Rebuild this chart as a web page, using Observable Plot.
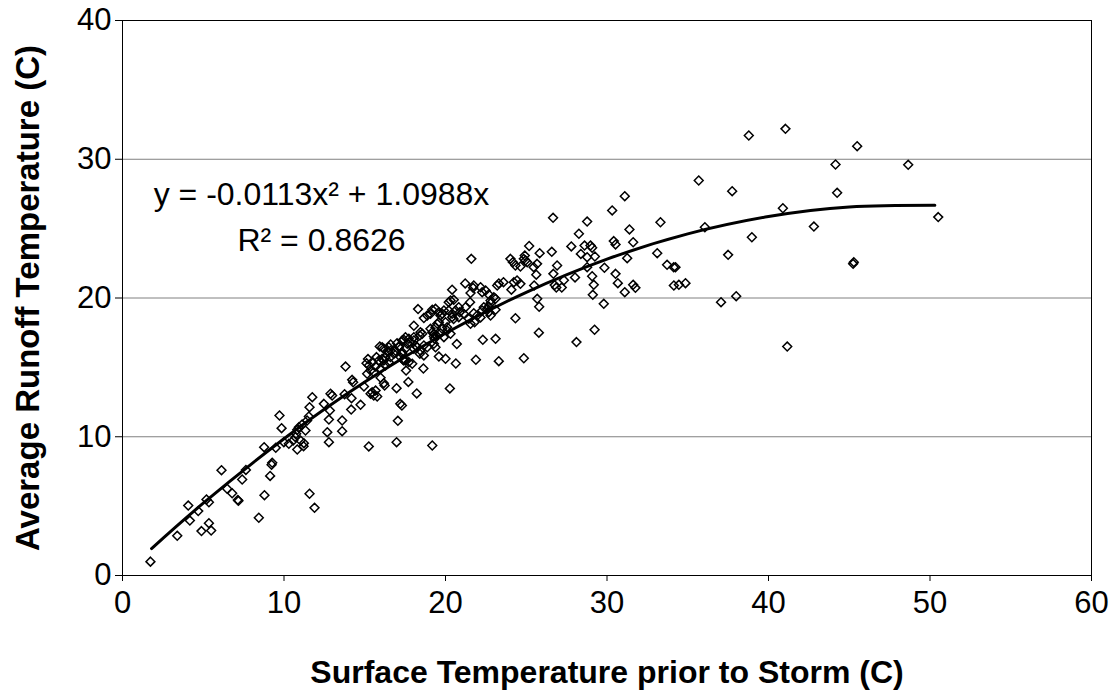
<!DOCTYPE html>
<html><head><meta charset="utf-8">
<script src="https://cdn.jsdelivr.net/npm/d3@7"></script>
<script src="https://cdn.jsdelivr.net/npm/@observablehq/plot@0.6"></script>
<style>body{margin:0;background:#fff;}</style>
</head><body><div id="chart"></div>
<script>
const surfaceTemp = [
 1.73, 3.39, 4.07, 4.17, 4.69, 4.89, 5.35, 5.49, 5.2, 5.35,
 6.13, 6.48, 6.79, 7.14, 7.18, 7.41, 7.64, 8.44, 8.79, 9.14,
 9.27, 9.23, 8.77, 9.49, 9.72, 9.85, 9.99, 10.3, 10.57, 10.71,
 10.82, 10.82, 10.92, 11.02, 11.12, 11.21, 11.23, 10.75, 11.33, 11.43,
 11.54, 11.58, 11.75, 11.58, 11.89, 12.47, 12.84, 12.78, 12.68, 12.78,
 12.88, 12.98, 13.6, 13.6, 13.81, 13.75, 14.18, 14.16, 14.22, 14.28,
 14.74, 14.95, 15.25, 15.11, 15.26, 15.46, 15.15, 15.36, 15.56, 15.36,
 15.46, 15.56, 15.2, 15.73, 15.87, 16.08, 15.93, 16.18, 16.49, 15.98,
 16.18, 15.67, 15.98, 16.28, 16.49, 16.59, 16.9, 17.11, 17.32, 17.52,
 16.97, 17.2, 17.3, 17.05, 16.97, 17.56, 17.7, 17.52, 15.67, 15.77,
 16.23, 17.73, 17.94, 17.37, 18.04, 18.14, 18.22, 18.3, 18.04, 18.63,
 19.18, 20.27, 16.6, 16.43, 16.08, 16.6, 16.28, 16.18, 17.21, 17.32,
 17.42, 17.0, 17.11, 17.52, 17.42, 17.63, 17.79, 18.04, 18.04, 18.25,
 18.45, 18.66, 18.87, 18.41, 18.66, 18.45, 18.56, 18.41, 17.73, 17.32,
 16.8, 19.28, 19.44, 19.28, 19.38, 19.59, 20.0, 20.64, 20.7, 21.88,
 22.31, 23.1, 23.3, 24.85, 24.33, 25.78, 25.8, 25.68, 28.11, 19.18,
 19.38, 19.07, 18.87, 18.66, 19.9, 19.8, 19.69, 19.59, 19.59, 20.1,
 19.49, 19.38, 19.07, 19.18, 19.28, 19.32, 19.69, 19.8, 20.1, 20.31,
 19.9, 20.2, 20.31, 20.51, 20.41, 20.5, 20.2, 20.41, 20.62, 20.0,
 20.82, 20.41, 20.88, 20.82, 21.55, 21.71, 21.22, 21.6, 21.52, 21.24,
 21.13, 21.44, 21.75, 21.8, 21.55, 21.96, 22.27, 22.58, 22.68, 22.79,
 22.17, 22.37, 22.68, 22.79, 22.99, 23.1, 23.1, 22.79, 22.17, 22.48,
 22.68, 22.27, 21.75, 23.2, 23.3, 23.59, 24.64, 24.43, 24.23, 24.08,
 25.06, 24.95, 24.85, 25.18, 24.91, 24.64, 24.02, 24.17, 25.46, 24.33,
 25.83, 26.58, 25.67, 26.91, 25.62, 26.68, 26.76, 26.86, 25.49, 27.2,
 27.33, 28.02, 27.79, 28.26, 26.66, 28.38, 28.61, 28.98, 29.08, 28.77,
 29.25, 31.25, 33.11, 37.5, 30.42, 30.53, 31.62, 35.68, 37.75, 31.1,
 30.32, 28.77, 33.31, 31.39, 36.06, 38.97, 33.72, 34.13, 34.24, 29.84,
 28.77, 29.08, 30.53, 29.18, 29.12, 29.8, 30.67, 31.1, 31.62, 31.76,
 34.14, 34.45, 34.86, 37.06, 38.0, 29.23, 38.78, 41.05, 45.49, 44.15,
 48.65, 44.25, 40.89, 50.51, 42.81, 45.28, 45.24, 41.16
];
const runoffTemp = [
 1.0, 2.86, 5.04, 3.96, 4.64, 3.2, 3.77, 3.24, 5.48, 5.28,
 7.59, 6.25, 5.93, 5.45, 5.38, 6.92, 7.61, 4.16, 5.79, 7.18,
 8.12, 7.98, 9.25, 9.2, 11.53, 10.62, 9.61, 9.49, 9.73, 9.97,
 9.08, 10.5, 10.69, 9.73, 10.88, 9.32, 9.54, 10.21, 10.45, 11.17,
 11.46, 12.13, 12.85, 5.89, 4.88, 12.37, 11.89, 11.24, 10.33, 9.61,
 13.1, 12.97, 11.17, 10.4, 15.06, 13.07, 12.78, 11.96, 14.1, 13.93,
 12.3, 13.62, 9.3, 15.3, 15.14, 15.37, 14.54, 14.77, 14.65, 13.1,
 13.21, 12.97, 15.6, 15.74, 15.5, 15.62, 16.5, 16.34, 16.45, 14.25,
 13.86, 15.06, 14.9, 15.14, 15.37, 15.74, 16.2, 16.45, 16.1, 16.34,
 13.5, 12.37, 12.25, 11.15, 9.61, 14.77, 13.95, 15.5, 13.33, 12.9,
 13.69, 15.38, 15.26, 15.55, 16.94, 16.58, 13.12, 19.2, 18.0, 14.92,
 9.37, 13.48, 16.65, 16.1, 16.45, 16.2, 15.74, 15.5, 15.74, 15.98,
 15.5, 16.74, 16.5, 17.18, 16.99, 16.7, 16.82, 17.18, 16.34, 16.45,
 16.2, 16.58, 16.45, 15.98, 15.86, 17.53, 17.42, 17.3, 17.06, 16.94,
 15.98, 17.42, 17.3, 16.7, 16.45, 15.78, 15.62, 15.28, 16.68, 15.55,
 16.99, 17.06, 15.45, 15.66, 18.54, 17.5, 19.37, 19.94, 16.82, 19.15,
 19.22, 18.86, 18.74, 18.55, 19.1, 18.86, 18.74, 18.98, 18.26, 17.9,
 18.14, 17.9, 17.78, 17.53, 17.22, 17.06, 17.46, 17.78, 17.66, 17.42,
 17.18, 19.7, 19.82, 19.87, 18.62, 18.48, 19.1, 18.86, 19.1, 18.26,
 18.62, 20.6, 18.98, 19.34, 20.36, 20.73, 21.05, 22.82, 19.7, 19.34,
 18.86, 18.5, 18.9, 18.26, 18.14, 18.74, 19.1, 19.22, 18.98, 18.74,
 18.6, 19.34, 19.39, 19.63, 20.06, 19.94, 19.15, 19.82, 20.78, 20.54,
 20.25, 20.42, 20.9, 20.9, 21.05, 21.14, 21.02, 21.26, 21.14, 20.6,
 22.58, 22.7, 22.82, 23.75, 23.06, 22.27, 22.82, 22.58, 22.22, 22.34,
 23.23, 23.33, 22.46, 22.34, 21.68, 21.74, 20.93, 20.75, 20.9, 20.75,
 21.28, 21.48, 23.72, 24.63, 25.78, 23.18, 23.78, 23.78, 23.62, 22.94,
 22.99, 22.87, 23.23, 23.11, 24.1, 23.86, 24.02, 28.47, 27.7, 27.34,
 26.31, 25.51, 25.46, 24.94, 25.1, 24.38, 22.39, 22.22, 22.22, 22.18,
 22.22, 21.57, 21.74, 20.95, 20.23, 19.58, 21.07, 20.42, 20.95, 20.73,
 20.9, 20.95, 21.07, 19.7, 20.13, 17.71, 31.71, 32.19, 30.94, 29.62,
 29.6, 27.58, 26.47, 25.83, 25.15, 22.58, 22.46, 16.5
];
// trendline positions
const trendX = [1.8, 5, 10, 15, 20, 25, 30, 35, 40, 45, 50.3];
const trendY = [1.94, 5.21, 9.86, 13.94, 17.46, 20.41, 22.8, 24.62, 25.87, 26.56, 26.68];
const xTicks = [0, 10, 20, 30, 40, 50, 60];
const yTicks = [0, 10, 20, 30, 40];
const gridLines = [10, 20, 30];
const equationText = "y = -0.0113x\u00b2 + 1.0988x";
const r2Text = "R\u00b2 = 0.8626";
const xTitle = "Surface Temperature prior to Storm (C)";
const yTitle = "Average Runoff Temperature (C)";

const points = surfaceTemp.map((x, i) => ({x, y: runoffTemp[i]}));
const trend = trendX.map((x, i) => ({x, y: trendY[i]}));
const font = "'Liberation Sans', Arial, Helvetica, sans-serif";

const chart = Plot.plot({
  width: 1117,
  height: 698,
  marginLeft: 122,
  marginRight: 26,
  marginTop: 20,
  marginBottom: 123,
  style: {fontFamily: font, fontSize: "30px", color: "#000", background: "#fff", overflow: "visible"},
  x: {domain: [0, 60], axis: null},
  y: {domain: [0, 40], axis: null},
  marks: [
    Plot.gridY(gridLines, {stroke: "#808080", strokeOpacity: 1, strokeWidth: 1}),
    Plot.frame({stroke: "#000", strokeWidth: 1}),
    Plot.axisX(xTicks, {tickSize: 6, tickPadding: 9, fontSize: 31, stroke: "#000", label: null}),
    Plot.axisY(yTicks, {tickSize: 7, tickPadding: 4, fontSize: 31, stroke: "#000", label: null}),
    Plot.dot(points, {x: "x", y: "y", symbol: "diamond2", r: 4, stroke: "#000", strokeWidth: 1.5, fill: "none"}),
    Plot.line(trend, {x: "x", y: "y", curve: "natural", stroke: "#000", strokeWidth: 3}),
    Plot.text([equationText], {text: d => d, frameAnchor: "top-left", dx: 199, dy: 184, lineAnchor: "bottom", textAnchor: "middle", fontSize: 32, fill: "#000"}),
    Plot.text([r2Text], {text: d => d, frameAnchor: "top-left", dx: 199, dy: 230, lineAnchor: "bottom", textAnchor: "middle", fontSize: 32, fill: "#000"}),
    Plot.text([xTitle], {text: d => d, frameAnchor: "bottom", dy: 97, lineAnchor: "middle", textAnchor: "middle", fontSize: 32, fontWeight: "bold", fill: "#000"}),
    Plot.text([yTitle], {text: d => d, frameAnchor: "left", dx: -94, rotate: -90, lineAnchor: "middle", textAnchor: "middle", fontSize: 33, fontWeight: "bold", fill: "#000"})
  ]
});
document.getElementById("chart").appendChild(chart);
</script>
</body></html>
